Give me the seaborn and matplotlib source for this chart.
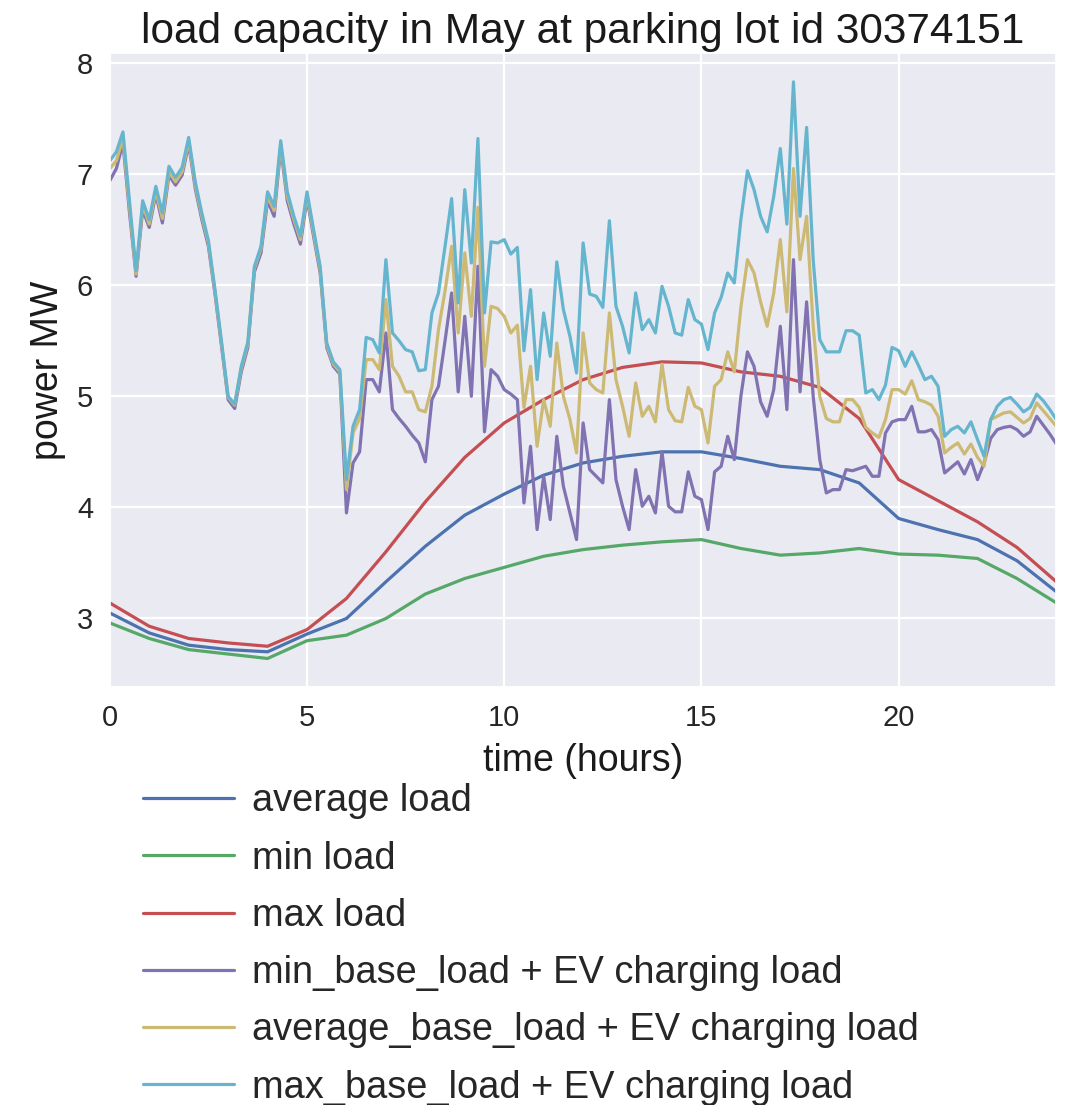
import numpy as np
import pandas as pd
import matplotlib
matplotlib.use("Agg")
import matplotlib.pyplot as plt
import seaborn as sns

# hourly base load profiles (MW)
base_hours = list(range(25))
average_load = [3.05, 2.87, 2.76, 2.72, 2.70, 2.86, 3.00, 3.33, 3.65, 3.93, 4.12, 4.29, 4.40,
                4.46, 4.50, 4.50, 4.44, 4.37, 4.34, 4.22, 3.90, 3.80, 3.71, 3.52, 3.24]
min_load = [2.96, 2.82, 2.72, 2.68, 2.64, 2.80, 2.85, 3.00, 3.22, 3.36, 3.46, 3.56, 3.62,
            3.66, 3.69, 3.71, 3.63, 3.57, 3.59, 3.63, 3.58, 3.57, 3.54, 3.36, 3.14]
max_load = [3.14, 2.93, 2.82, 2.78, 2.75, 2.90, 3.18, 3.60, 4.05, 4.45, 4.76, 4.97, 5.15,
            5.26, 5.31, 5.30, 5.22, 5.18, 5.08, 4.80, 4.25, 4.06, 3.87, 3.64, 3.33]

# base load + EV charging load, 10-minute resolution (MW)
ev_hours = [i / 6 for i in range(145)]
min_base_ev = [
    6.94, 7.05, 7.28, 6.65, 6.08, 6.68, 6.52, 6.82, 6.56, 6.99, 6.90, 6.99, 7.27, 6.87, 6.59, 6.35,
    5.92, 5.45, 4.97, 4.89, 5.22, 5.44, 6.12, 6.29, 6.76, 6.62, 7.24, 6.76, 6.55, 6.37, 6.78, 6.44,
    6.11, 5.44, 5.27, 5.20, 3.95, 4.40, 4.50, 5.15, 5.15, 5.04, 5.57, 4.88, 4.80, 4.73, 4.65, 4.58,
    4.41, 4.97, 5.09, 5.50, 5.93, 5.04, 5.72, 5.00, 6.17, 4.68, 5.24, 5.18, 5.06, 5.02, 4.97, 4.04,
    4.55, 3.80, 4.28, 3.89, 4.64, 4.19, 3.95, 3.71, 4.76, 4.34, 4.28, 4.22, 4.97, 4.25, 4.01, 3.80,
    4.34, 4.01, 4.10, 3.95, 4.50, 4.01, 3.96, 3.96, 4.32, 4.10, 4.07, 3.80, 4.32, 4.37, 4.64, 4.43,
    5.00, 5.40, 5.27, 4.95, 4.82, 5.06, 5.63, 4.88, 6.23, 5.04, 5.85, 5.00, 4.43, 4.13, 4.16, 4.16,
    4.34, 4.33, 4.35, 4.37, 4.28, 4.28, 4.67, 4.77, 4.79, 4.79, 4.91, 4.68, 4.68, 4.70, 4.61, 4.31,
    4.36, 4.41, 4.30, 4.43, 4.25, 4.40, 4.62, 4.70, 4.72, 4.73, 4.70, 4.64, 4.68, 4.82, 4.74, 4.66,
    4.57,
]
average_base_ev = [
    7.05, 7.12, 7.32, 6.70, 6.10, 6.72, 6.55, 6.85, 6.60, 7.02, 6.93, 7.02, 7.30, 6.90, 6.62, 6.38,
    5.94, 5.47, 4.99, 4.92, 5.25, 5.47, 6.15, 6.33, 6.80, 6.67, 7.27, 6.80, 6.59, 6.41, 6.81, 6.47,
    6.14, 5.46, 5.29, 5.22, 4.16, 4.67, 4.80, 5.33, 5.33, 5.24, 5.87, 5.27, 5.18, 5.04, 5.04, 4.88,
    4.86, 5.09, 5.60, 5.95, 6.35, 5.57, 6.29, 5.72, 6.70, 5.27, 5.81, 5.79, 5.72, 5.57, 5.64, 4.90,
    5.27, 4.55, 4.97, 4.73, 5.48, 5.00, 4.79, 4.49, 5.57, 5.12, 5.06, 5.03, 5.75, 5.15, 4.91, 4.64,
    5.12, 4.82, 4.91, 4.77, 5.29, 4.88, 4.78, 4.77, 5.08, 4.91, 4.88, 4.58, 5.09, 5.15, 5.40, 5.22,
    5.80, 6.23, 6.11, 5.85, 5.63, 5.93, 6.41, 5.76, 7.05, 6.23, 6.62, 5.63, 5.00, 4.80, 4.77, 4.77,
    4.97, 4.97, 4.90, 4.72, 4.67, 4.63, 4.79, 5.06, 5.06, 5.02, 5.14, 4.97, 4.95, 4.92, 4.82, 4.49,
    4.54, 4.58, 4.48, 4.57, 4.45, 4.37, 4.79, 4.82, 4.85, 4.86, 4.81, 4.76, 4.80, 4.94, 4.87, 4.80,
    4.73,
]
max_base_ev = [
    7.12, 7.20, 7.38, 6.75, 6.13, 6.76, 6.59, 6.89, 6.65, 7.07, 6.97, 7.06, 7.33, 6.93, 6.65, 6.40,
    5.96, 5.49, 5.00, 4.93, 5.27, 5.49, 6.17, 6.35, 6.84, 6.71, 7.30, 6.84, 6.62, 6.44, 6.84, 6.50,
    6.17, 5.48, 5.31, 5.24, 4.25, 4.73, 4.88, 5.53, 5.51, 5.39, 6.23, 5.57, 5.50, 5.42, 5.40, 5.23,
    5.24, 5.75, 5.93, 6.35, 6.78, 5.84, 6.86, 6.20, 7.32, 5.75, 6.39, 6.38, 6.41, 6.28, 6.34, 5.41,
    5.96, 5.15, 5.75, 5.36, 6.21, 5.78, 5.54, 5.21, 6.38, 5.92, 5.90, 5.80, 6.58, 5.81, 5.63, 5.39,
    5.93, 5.60, 5.69, 5.57, 5.99, 5.81, 5.57, 5.55, 5.87, 5.69, 5.65, 5.42, 5.75, 5.89, 6.11, 6.02,
    6.59, 7.03, 6.86, 6.62, 6.48, 6.80, 7.23, 6.55, 7.83, 6.62, 7.42, 6.23, 5.51, 5.40, 5.40, 5.40,
    5.59, 5.59, 5.55, 5.03, 5.06, 4.97, 5.10, 5.44, 5.41, 5.27, 5.40, 5.28, 5.15, 5.18, 5.09, 4.64,
    4.70, 4.73, 4.67, 4.77, 4.61, 4.46, 4.79, 4.91, 4.97, 4.99, 4.93, 4.86, 4.90, 5.02, 4.96, 4.88,
    4.79,
]

series_names = [
    "average load",
    "min load",
    "max load",
    "min_base_load + EV charging load",
    "average_base_load + EV charging load",
    "max_base_load + EV charging load",
]
series_colors = ["#4C72B0", "#55A868", "#C44E52", "#8172B2", "#CCB974", "#64B5CD"]

frames = []
for name, hours, values in [
    (series_names[0], base_hours, average_load),
    (series_names[1], base_hours, min_load),
    (series_names[2], base_hours, max_load),
    (series_names[3], ev_hours, min_base_ev),
    (series_names[4], ev_hours, average_base_ev),
    (series_names[5], ev_hours, max_base_ev),
]:
    frames.append(pd.DataFrame({"time": hours, "power": values, "series": name}))
df = pd.concat(frames, ignore_index=True)

sns.set_theme(style="darkgrid", rc={
    "axes.facecolor": "#EAEAF2",
    "grid.color": "white",
    "grid.linewidth": 1.6,
    "xtick.color": "#262626",
    "ytick.color": "#262626",
})
plt.rcParams["font.family"] = ["Liberation Sans", "DejaVu Sans"]

fig = plt.figure(figsize=(10.66, 11.05), dpi=100)
ax = fig.add_axes([0.103, 0.378, 0.888, 0.574])

sns.lineplot(data=df, x="time", y="power", hue="series", hue_order=series_names,
             palette=dict(zip(series_names, series_colors)), estimator=None,
             sort=False, linewidth=2.3, ax=ax)

ax.set_xlim(0, 24)
ax.set_xticks([0, 5, 10, 15, 20])
ax.set_yticks([3, 4, 5, 6, 7, 8])
ax.tick_params(labelsize=21, pad=6)
ax.set_title("load capacity in May at parking lot id 30374151", fontsize=30.5, pad=7,
             color="#1a1a1a")
ax.set_xlabel("time (hours)", fontsize=27, color="#1a1a1a", labelpad=8)
ax.set_ylabel("power MW", fontsize=27, color="#1a1a1a", labelpad=8)

handles, labels = ax.get_legend_handles_labels()
ax.legend_.remove()
leg = fig.legend(handles, labels, loc="upper left", bbox_to_anchor=(0.12, 0.305),
                 frameon=False, fontsize=27.4, handlelength=2.4, handletextpad=0.45,
                 labelspacing=0.56, borderaxespad=0)
for line in leg.get_lines():
    line.set_linewidth(2.3)

fig.savefig("out.png", dpi=100, facecolor="white")
